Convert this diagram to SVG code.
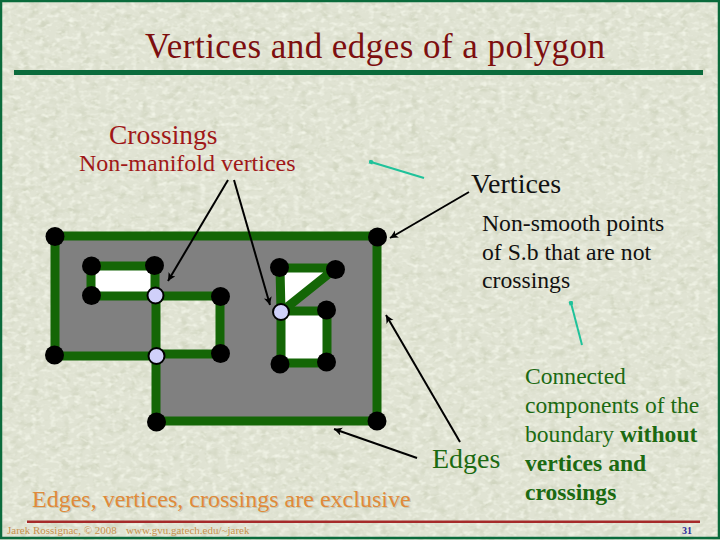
<svg xmlns="http://www.w3.org/2000/svg" width="720" height="540" viewBox="0 0 720 540">
<style>
text{font-family:"Liberation Serif","Times New Roman",serif}
.ed{fill:none;stroke:#146606;stroke-width:9;stroke-linejoin:round}
.v{fill:#000}
.x{fill:#d0d0fa;stroke:#000;stroke-width:2}
.ar{stroke:#000;stroke-width:2;fill:none;marker-end:url(#ah)}
.tq{stroke:#1fc29a;stroke-width:2;fill:none;marker-start:url(#dot)}
.blk{fill:#111}
.grn{fill:#1c6a12}
.foot{fill:#c9924e;font-size:11px}
</style>
<defs>
<marker id="ah" markerUnits="userSpaceOnUse" markerWidth="10" markerHeight="10" refX="8" refY="4" orient="auto"><path d="M0,0L8,4L0,8L2,4Z" fill="#000"/></marker>
<marker id="dot" markerUnits="userSpaceOnUse" markerWidth="6" markerHeight="6" refX="2" refY="2" orient="auto"><rect width="4" height="4" fill="#1fc29a"/></marker>
<filter id="light" x="0" y="0" width="100%" height="100%" color-interpolation-filters="sRGB"><feTurbulence type="fractalNoise" baseFrequency="0.16 0.22" numOctaves="2" seed="11"/><feColorMatrix type="matrix" values="0 0 0 0 0.95  0 0 0 0 0.96  0 0 0 0 0.91  2.4 0 0 0 -1.15"/></filter>
<filter id="dark" x="0" y="0" width="100%" height="100%" color-interpolation-filters="sRGB"><feTurbulence type="fractalNoise" baseFrequency="0.1 0.14" numOctaves="2" seed="4"/><feColorMatrix type="matrix" values="0 0 0 0 0.8  0 0 0 0 0.82  0 0 0 0 0.73  2 0 0 0 -0.95"/></filter>
</defs>
<rect id="background" width="720" height="540" fill="#e0e3d3"/>
<rect width="720" height="540" filter="url(#dark)"/>
<rect width="720" height="540" filter="url(#light)"/>
<g id="slide-frame">
<rect x="1" y="1" width="718" height="537" fill="none" stroke="#0b6b3c" stroke-width="2.5"/>
<rect x="14" y="70" width="689" height="5" fill="#0b6b3c"/>
<rect x="27" y="520.500" width="673" height="2.500" fill="#a52a2a"/>
</g>
<g id="polygon">
<path fill="#808080" fill-rule="evenodd" d="M55,236H377V421H156V356H55ZM156,296H220V354H156Z"/>
<path fill="#fff" d="M91,266H155V296H91Z"/>
<path fill="#fff" d="M280,268H336L281,312Z"/>
<path fill="#fff" d="M281,311H327V363H281Z"/>
</g>
<g id="connectors">
<path class="ed" d="M55,236H377V421H156V356H55Z"/>
<path class="ed" d="M91,266H155V296H91Z"/>
<path class="ed" d="M156,296H220V354H156Z"/>
<path class="ed" d="M280,268H336L281,312Z"/>
<path class="ed" d="M281,311H327V363H281Z"/>
<path class="ar" d="M228,180L168,281"/>
<path class="ar" d="M234,180L270,305"/>
<path class="ar" d="M469,192L390,238"/>
<path class="ar" d="M460,442L386,315"/>
<path class="ar" d="M417,458L334,429"/>
<path class="tq" d="M371,162L424,178"/>
<path class="tq" d="M571,303L582,345"/>
</g>
<g id="vertices">
<circle id="v1" class="v" cx="55" cy="236.500" r="9.500"/>
<circle id="v2" class="v" cx="377.500" cy="237" r="9.500"/>
<circle id="v3" class="v" cx="377" cy="421" r="9.500"/>
<circle id="v4" class="v" cx="156.500" cy="422" r="9.500"/>
<circle id="v5" class="v" cx="54.500" cy="355" r="9.500"/>
<circle id="v6" class="v" cx="91.500" cy="266" r="9.500"/>
<circle id="v7" class="v" cx="154.500" cy="265.500" r="9.500"/>
<circle id="v8" class="v" cx="91.500" cy="295.500" r="9.500"/>
<circle id="v9" class="v" cx="220.500" cy="296.500" r="9.500"/>
<circle id="v10" class="v" cx="220.500" cy="353.500" r="9.500"/>
<circle id="v11" class="v" cx="279.500" cy="267.500" r="9.500"/>
<circle id="v12" class="v" cx="335.500" cy="269.500" r="9.500"/>
<circle id="v13" class="v" cx="326.500" cy="310" r="9.500"/>
<circle id="v14" class="v" cx="280" cy="364" r="9.500"/>
<circle id="v15" class="v" cx="326.500" cy="362" r="9.500"/>
</g>
<g id="crossings">
<circle id="c1" class="x" cx="155.500" cy="295.500" r="8"/>
<circle id="c2" class="x" cx="156.500" cy="356" r="8"/>
<circle id="c3" class="x" cx="281" cy="312" r="8"/>
</g>
<g id="labels">
<text x="145" y="58" font-size="35" textLength="460" fill="#7d0f0f">Vertices and edges of a polygon</text>
<text x="109" y="144" font-size="27.500" fill="#a01818">Crossings</text>
<text x="79" y="171" font-size="24" fill="#a01818">Non-manifold vertices</text>
<text class="blk" x="471" y="193" font-size="28">Vertices</text>
<text class="blk" x="482" y="231" font-size="23.700">Non-smooth points</text>
<text class="blk" x="482" y="260" font-size="23.700">of S.b that are not</text>
<text class="blk" x="482" y="288" font-size="23.700">crossings</text>
<text class="grn" x="432" y="468" font-size="28">Edges</text>
<text class="grn" x="525" y="384" font-size="23.600">Connected</text>
<text class="grn" x="525" y="413" font-size="23.600">components of the</text>
<text class="grn" x="525" y="442" font-size="23.600">boundary <tspan font-weight="bold">without</tspan></text>
<text class="grn" x="525" y="471" font-size="23.600" font-weight="bold">vertices and</text>
<text class="grn" x="525" y="500" font-size="23.600" font-weight="bold">crossings</text>
<text x="32" y="507" font-size="24" fill="#e08a3a" style="text-shadow:1px 1px 0 #c6c8b0">Edges, vertices, crossings are exclusive</text>
<text class="foot" x="7" y="534">Jarek Rossignac, © 2008</text>
<text class="foot" x="126" y="534">www.gvu.gatech.edu/~jarek</text>
<text x="682" y="534" font-size="10" font-weight="bold" fill="#2a2a9a">31</text>
</g>
</svg>
